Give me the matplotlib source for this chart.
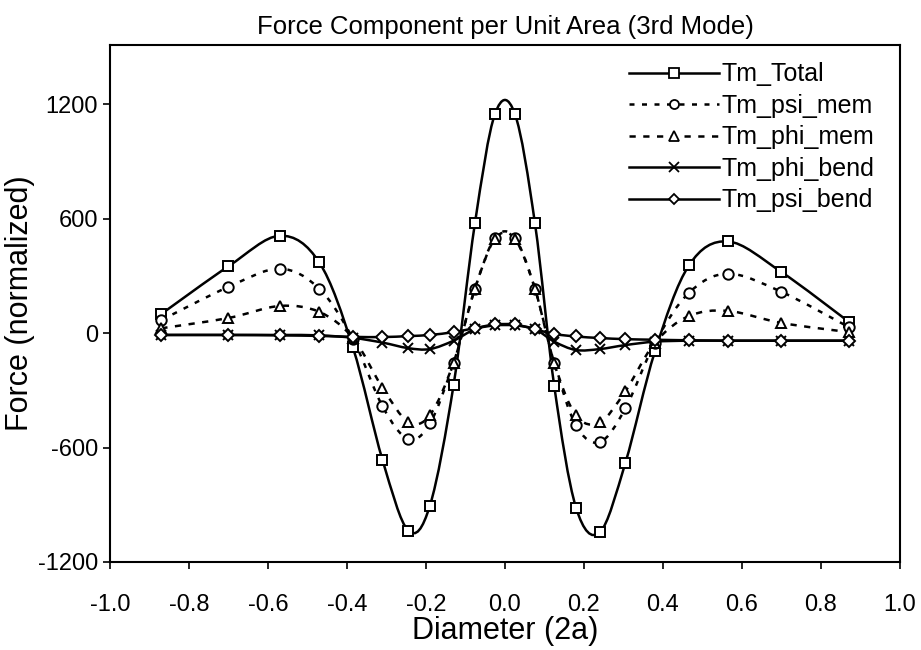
import numpy as np
import matplotlib
matplotlib.use("Agg")
import matplotlib.pyplot as plt
from matplotlib.path import Path
from matplotlib.patches import PathPatch
from matplotlib.lines import Line2D

plt.rcParams['font.family'] = ['Liberation Sans', 'DejaVu Sans']
plt.rcParams['axes.unicode_minus'] = False

# ####################################################################
# data

diameter = [-0.87, -0.70, -0.57, -0.47, -0.385, -0.31, -0.245, -0.19, -0.13, -0.076, -0.025,
            0.025, 0.076, 0.125, 0.18, 0.24, 0.305, 0.38, 0.466, 0.565, 0.70, 0.87]

tm_total = [100, 350, 510, 370, -75, -665, -1035, -905, -272, 575, 1150,
            1150, 575, -280, -915, -1045, -680, -95, 355, 480, 320, 60]
tm_psi_mem = [68, 242, 337, 232, -30, -384, -555, -474, -155, 232, 500,
              500, 232, -158, -484, -572, -395, -50, 211, 311, 216, 32]
tm_phi_mem = [25, 79, 142, 111, -25, -287, -465, -430, -155, 232, 495,
              495, 232, -158, -432, -468, -305, -50, 89, 116, 53, 5]
tm_phi_bend = [-10, -10, -10, -12, -25, -50, -79, -84, -40, 20, 40,
               40, 20, -45, -89, -84, -63, -45, -40, -40, -40, -40]
tm_psi_bend = [-10, -10, -12, -15, -20, -21, -16, -10, 5, 26, 45,
               45, 20, -5, -18, -26, -32, -35, -38, -40, -40, -40]

x_ticks = [-1.0, -0.8, -0.6, -0.4, -0.2, 0.0, 0.2, 0.4, 0.6, 0.8, 1.0]
y_ticks = [-1200, -600, 0, 600, 1200]

# name, values, line style, marker, marker size
series = [
    ("Tm_Total", tm_total, "-", "s", 7.5),
    ("Tm_psi_mem", tm_psi_mem, (0, (2, 3)), "o", 7.5),
    ("Tm_phi_mem", tm_phi_mem, (0, (2.5, 3)), "^", 7.5),
    ("Tm_phi_bend", tm_phi_bend, "-", "x", 7.5),
    ("Tm_psi_bend", tm_psi_bend, "-", "D", 6),
]


# smoothed line like a spreadsheet "smoothed line" (bezier through the points)
def smooth_path(x, y):
    p = np.column_stack([x, y]).astype(float)
    n = len(p)
    verts = [p[0]]
    codes = [Path.MOVETO]
    for i in range(n - 1):
        p0 = p[i - 1] if i > 0 else p[i]
        p3 = p[i + 2] if i + 2 < n else p[i + 1]
        c1 = p[i] + (p[i + 1] - p0) / 6
        c2 = p[i + 1] - (p3 - p[i]) / 6
        verts += [c1, c2, p[i + 1]]
        codes += [Path.CURVE4] * 3
    return Path(verts, codes)


fig = plt.figure(figsize=(9.21, 6.5), dpi=100)
ax = fig.add_axes([0.1194, 0.1354, 0.8577, 0.7954])

handles = []
for name, vals, ls, mk, ms in series:
    patch = PathPatch(smooth_path(diameter, vals), facecolor='none', edgecolor='black',
                      linewidth=1.8, linestyle=ls, zorder=2)
    ax.add_patch(patch)
    ax.plot(diameter, vals, linestyle='none', marker=mk, markersize=ms,
            markerfacecolor='white', markeredgecolor='black', markeredgewidth=1.4, zorder=3)
    handles.append(Line2D([], [], color='black', linewidth=1.8, linestyle=ls, marker=mk,
                          markersize=ms - 1, markerfacecolor='white', markeredgecolor='black',
                          markeredgewidth=1.3, label=name))

ax.set_xlim(-1.0, 1.0)
ax.set_ylim(-1200, 1510)
ax.set_xticks(x_ticks)
ax.set_xticklabels([f"{v:.1f}" for v in x_ticks])
ax.set_yticks(y_ticks)
ax.tick_params(direction='out', length=5, width=1.2, labelsize=17)
ax.tick_params(axis='x', pad=18)
for s in ax.spines.values():
    s.set_linewidth(1.5)

ax.set_title("Force Component per Unit Area (3rd Mode)", fontsize=18.5, pad=8)
ax.set_xlabel("Diameter (2a)", fontsize=22, labelpad=0)
ax.set_ylabel("Force (normalized)", fontsize=22, labelpad=2)

ax.legend(handles=handles, loc='upper right', frameon=False, fontsize=18,
          handlelength=3.6, handletextpad=0.1, labelspacing=0.3,
          borderaxespad=0.3, bbox_to_anchor=(0.99, 1.0))

plt.savefig("out.png", dpi=100)
